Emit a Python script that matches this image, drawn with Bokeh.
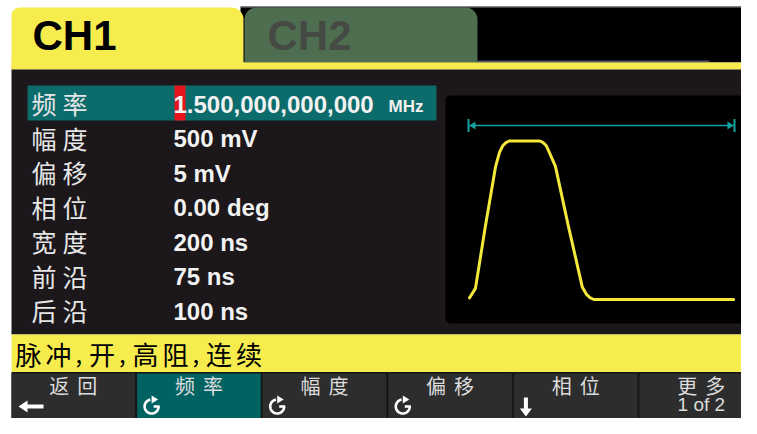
import math
from bokeh.plotting import figure
from bokeh.models import Range1d
from bokeh.core.properties import value
from bokeh.embed import file_html
from bokeh.resources import INLINE

# ---------------- data ----------------
channel_tabs = ["CH1", "CH2"]
active_tab = 0
param_labels = ["频率", "幅度", "偏移", "相位", "宽度", "前沿", "后沿"]
param_values = ["1.500,000,000,000", "500 mV", "5 mV", "0.00 deg", "200 ns", "75 ns", "100 ns"]
param_small_units = ["MHz", "", "", "", "", "", ""]
selected_param = 0
status_text = "脉冲,开,高阻,连续"
button_labels = ["返回", "频率", "幅度", "偏移", "相位", "更多"]
button_icons = ["left", "knob", "knob", "knob", "down", "1 of 2"]
selected_button = 1

# pulse waveform (time in ns, normalised level 0..1), one period at 1.5 MHz
period_ns = 666.67
wave_t = [0, 5, 15, 40, 66, 76, 84, 92, 100, 178, 186, 194, 203, 217, 250, 285, 296, 305, 314, 667]
wave_v = [0.01, 0.03, 0.07, 0.46, 0.84, 0.93, 0.97, 0.99, 1.0, 1.0, 0.99, 0.97, 0.92, 0.84, 0.46, 0.077, 0.03, 0.01, 0.0, 0.0]

# ---------------- colours / fonts ----------------
BG = "#1b171a"
YELLOW = "#f6ec4e"
CH2_GREEN = "#4f6e4f"
CH2_TEXT = "#454a45"
TEAL_BAND = "#0c6b6b"
TEAL_BTN = "#016262"
RED = "#e8141c"
BTN = "#2d2d2d"
BTN_SEP = "#161616"
WHITE = "#f2f2f2"
LIGHT = "#dcdcdc"
MARK = "#14a3a3"
WAVE = "#f4e83a"
CJK = value("Noto Sans CJK SC")
SANS = value("Liberation Sans")

# ---------------- figure (1 data unit = 1 screen pixel) ----------------
X0, X1, Y0, Y1 = 0, 741, 0, 418
p = figure(width=X1 - X0, height=Y1 - Y0, x_range=Range1d(X0, X1), y_range=Range1d(Y1, Y0),
           output_backend="svg", toolbar_location=None, min_border=0,
           x_axis_location=None, y_axis_location=None)
p.grid.visible = False
p.outline_line_color = None
p.background_fill_color = "white"
p.border_fill_color = "white"

L, R = 11, 760


def rrect(x0, y0, x1, y1, rtl=0, rtr=0, rbr=0, rbl=0, n=10):
    xs, ys = [], []
    corners = [((x0 + rtl, y0 + rtl), rtl, 180), ((x1 - rtr, y0 + rtr), rtr, 270),
               ((x1 - rbr, y1 - rbr), rbr, 0), ((x0 + rbl, y1 - rbl), rbl, 90)]
    for (cx, cy), r, a0 in corners:
        for k in range(n + 1):
            a = math.radians(a0 + 90 * k / n)
            xs.append(cx + r * math.cos(a))
            ys.append(cy + r * math.sin(a))
    return xs, ys


def txt(x, y, s, size, color, font=SANS, style="normal", align="left", baseline="middle"):
    p.text(x=[x], y=[y], text=[s], text_font=font, text_font_size=value(f"{size}px"),
           text_font_style=style, text_color=color, text_align=align, text_baseline=baseline)


# ---------------- top tab bar ----------------
p.quad(left=[240], right=[R], top=[6], bottom=[62], color="black", line_color=None)
p.segment(x0=[240], y0=[6.5], x1=[R], y1=[6.5], line_color="#8a8a8a", line_width=1)
p.segment(x0=[477], y0=[61], x1=[709], y1=[61], line_color="#555566", line_width=2)
tab_w = 233
for i, name in enumerate(channel_tabs):
    tx0 = L + i * tab_w
    if i == active_tab:
        xs, ys = rrect(tx0, 7, tx0 + 232, 69, 8, 12, 0, 0)
        p.patch(xs, ys, color=YELLOW, line_color=None)
        txt(tx0 + 21, 35, name, 42, "black", SANS, "bold")
    else:
        xs, ys = rrect(tx0, 7, tx0 + 233, 62, 12, 12, 0, 0)
        p.patch(xs, ys, color=CH2_GREEN, line_color=None)
        txt(tx0 + 23, 35, name, 42, CH2_TEXT, SANS, "bold")
p.quad(left=[L], right=[R], top=[62], bottom=[69], color=YELLOW, line_color=None)

# ---------------- main area ----------------
p.quad(left=[L], right=[R], top=[69], bottom=[334], color=BG, line_color=None)

row_y0, row_pitch, row_h = 102.5, 34.55, 35
for i, (lab, val, unit) in enumerate(zip(param_labels, param_values, param_small_units)):
    y = row_y0 + i * row_pitch
    if i == selected_param:
        p.quad(left=[27], right=[436], top=[y - row_h / 2], bottom=[y + row_h / 2], color=TEAL_BAND, line_color=None)
        p.quad(left=[174], right=[185], top=[y - row_h / 2], bottom=[y + row_h / 2], color=RED, line_color=None)
    for k, ch in enumerate(lab):
        txt(31 + 31 * k, y, ch, 25, "#e6e6e6", CJK)
    txt(173, y + 1, val, 24, WHITE, SANS, "bold")
    if unit:
        txt(388, y + 3, unit, 17, WHITE, SANS, "bold")

# waveform panel
xs, ys = rrect(445, 95, 756, 323, 5, 5, 5, 5, 6)
p.patch(xs, ys, color="black", line_color=None)

px_t0, px_t1 = 469.0, 733.0
s_t = (px_t1 - px_t0) / period_ns
py_lo, py_hi = 299.0, 140.5
s_v = py_lo - py_hi
p.extra_x_ranges = {"t": Range1d((X0 - px_t0) / s_t, (X1 - px_t0) / s_t)}
p.extra_y_ranges = {"v": Range1d((py_lo - Y1) / s_v, (py_lo - Y0) / s_v)}

mark_v = (py_lo - 125) / s_v
p.segment(x0=[0], y0=[mark_v], x1=[period_ns], y1=[mark_v], x_range_name="t", y_range_name="v",
          line_color=MARK, line_width=1.6)
for px_end, d in ((px_t0, 1), (px_t1, -1)):
    p.patch([px_end, px_end + 6 * d, px_end + 6 * d], [125, 121, 129], color=MARK, line_color=None)
    p.segment(x0=[px_end - d], y0=[118.5], x1=[px_end - d], y1=[131.5], line_color=MARK, line_width=2)

p.line(wave_t, wave_v, x_range_name="t", y_range_name="v", line_color=WAVE, line_width=3,
       line_join="round", line_cap="round")

# ---------------- status bar ----------------
p.quad(left=[L], right=[R], top=[334], bottom=[371.5], color=YELLOW, line_color=None)
sx = 15
for ch in status_text:
    if ch == ",":
        txt(sx, 353, ch, 24, "black", CJK)
        sx += 13.5
    else:
        txt(sx, 353, ch, 26, "black", CJK)
        sx += 30

# ---------------- soft buttons (squeezed to fit the window) ----------------
p.quad(left=[L], right=[R], top=[371.5], bottom=[440], color=BTN_SEP, line_color=None)
bw = 125.6
lab_y, icon_y = 385, 404
for i, (lab, icon) in enumerate(zip(button_labels, button_icons)):
    bx0 = L + i * bw
    bx1 = bx0 + bw - 2
    p.quad(left=[bx0], right=[bx1], top=[373], bottom=[440],
           color=TEAL_BTN if i == selected_button else BTN, line_color=None)
    cx = bx0 + (bw - 2) / 2
    for k, ch in enumerate(lab):
        txt(cx + (k - (len(lab) - 1) / 2) * 28, lab_y, ch, 20, LIGHT, CJK, align="center")
    if icon == "left":
        ax = bx0 + 7
        p.segment(x0=[ax + 7], y0=[icon_y + 2], x1=[ax + 25], y1=[icon_y + 2], line_color="white", line_width=4)
        p.patch([ax, ax + 9, ax + 9], [icon_y + 2, icon_y - 4, icon_y + 8], color="white", line_color=None)
    elif icon == "knob":
        kx, ky, r = bx0 + 14.5, icon_y + 2, 7
        angs = [math.radians(100 + 260 * j / 30) for j in range(31)]
        p.line([kx + r * math.cos(a) for a in angs], [ky - r * math.sin(a) for a in angs],
               line_color="white", line_width=2.6)
        p.segment(x0=[kx + r + 1], y0=[ky], x1=[kx + 2], y1=[ky], line_color="white", line_width=2.6)
        p.patch([kx + 6.5, kx, kx], [ky - r, ky - r - 4, ky - r + 4], color="white", line_color=None)
    elif icon == "down":
        ax = bx0 + 12
        p.segment(x0=[ax], y0=[icon_y - 7], x1=[ax], y1=[icon_y + 5], line_color="white", line_width=4)
        p.patch([ax - 6, ax + 6, ax], [icon_y + 4, icon_y + 4, icon_y + 12], color="white", line_color=None)
    else:
        txt(cx, icon_y, icon, 19, LIGHT, SANS, align="center")

open("out.html", "w").write(file_html(p, INLINE))
